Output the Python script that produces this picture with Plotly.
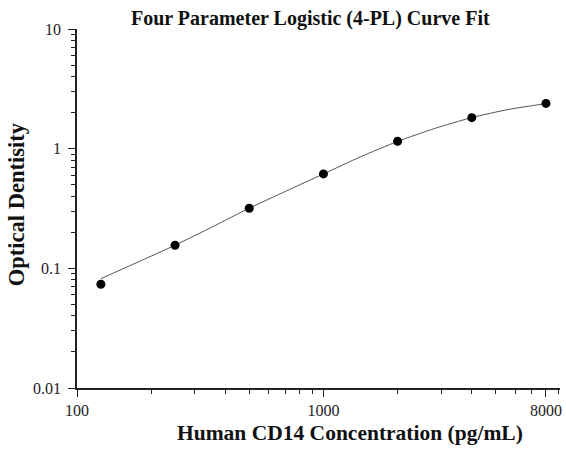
import plotly.graph_objects as go

# Measured standards
conc = [125, 250, 500, 1000, 2000, 4000, 8000]
od = [0.0736, 0.156, 0.318, 0.615, 1.153, 1.815, 2.39]

# Fitted 4-PL curve
curve_x = [125, 177, 250, 354, 500, 707, 1000, 1414, 2000, 2828, 4000, 5657, 8000]
curve_y = [0.082, 0.113, 0.156, 0.222, 0.318, 0.443, 0.615, 0.855, 1.15, 1.475, 1.82, 2.13, 2.38]

x_ticks = [100, 1000, 8000]
x_ticklabels = ["100", "1000", "8000"]
x_minor = [200, 300, 400, 500, 600, 700, 800, 900, 2000, 3000, 4000, 5000, 6000, 7000, 9000]
y_ticks = [0.01, 0.1, 1, 10]
y_ticklabels = ["0.01", "0.1", "1", "10"]
y_minor = [0.02, 0.03, 0.04, 0.05, 0.06, 0.07, 0.08, 0.09,
           0.2, 0.3, 0.4, 0.5, 0.6, 0.7, 0.8, 0.9,
           2, 3, 4, 5, 6, 7, 8, 9]

title_text = "Four Parameter Logistic (4-PL) Curve Fit"
x_title = "Human CD14 Concentration (pg/mL)"
y_title = "Optical Dentisity"

FONT = "Liberation Serif, Times New Roman, serif"

fig = go.Figure()
fig.add_trace(go.Scatter(x=curve_x, y=curve_y, mode="lines",
                         line=dict(color="#555555", width=1, shape="spline", smoothing=0.6),
                         hoverinfo="skip", showlegend=False))
fig.add_trace(go.Scatter(x=conc, y=od, mode="markers",
                         marker=dict(color="black", size=9),
                         showlegend=False))

axis_common = dict(showgrid=False, zeroline=False, showline=True, linecolor="#222222",
                   linewidth=1.5, ticks="outside", ticklen=7, tickwidth=1.2,
                   tickcolor="#222222", tickfont=dict(family=FONT, size=16, color="#222222"),
                   mirror=False, automargin=False)

fig.update_xaxes(type="log", range=[2, 3.96], tickmode="array", tickvals=x_ticks,
                 ticktext=x_ticklabels,
                 minor=dict(tickmode="array", tickvals=x_minor, ticks="outside",
                            ticklen=4, tickwidth=1.2, tickcolor="#222222", showgrid=False),
                 **axis_common)
fig.update_yaxes(type="log", range=[-2, 1], tickmode="array", tickvals=y_ticks,
                 ticktext=y_ticklabels,
                 minor=dict(tickmode="array", tickvals=y_minor, ticks="outside",
                            ticklen=4, tickwidth=1.2, tickcolor="#222222", showgrid=False),
                 ticklabelstandoff=4,
                 **axis_common)

fig.add_annotation(text=title_text, xref="paper", yref="paper", x=0.484, y=1.0,
                   yshift=11, yanchor="middle", showarrow=False,
                   font=dict(family=FONT, size=20, color="#111111", weight="bold"))
fig.add_annotation(text=x_title, xref="paper", yref="paper", x=0.566, y=0,
                   yshift=-45, yanchor="middle", showarrow=False,
                   font=dict(family=FONT, size=21.5, color="#111111", weight="bold"))
fig.add_annotation(text=y_title, xref="paper", yref="paper", x=0, y=0.512,
                   xshift=-61, xanchor="center", textangle=-90, showarrow=False,
                   font=dict(family=FONT, size=22.5, color="#111111", weight="bold"))

fig.update_layout(width=566, height=449, margin=dict(l=77, r=6, t=29, b=61),
                  plot_bgcolor="white", paper_bgcolor="white")

fig.write_html("out.html", config={"displayModeBar": False},
               post_script="document.body.style.margin='0';")
